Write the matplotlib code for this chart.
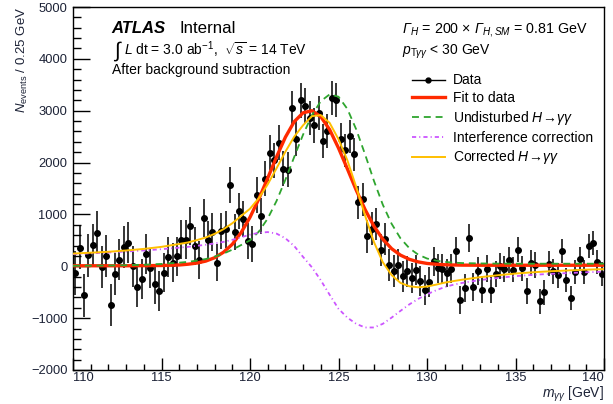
import numpy as np
import matplotlib
matplotlib.use("Agg")
import matplotlib.pyplot as plt
from matplotlib.lines import Line2D
from matplotlib.ticker import MultipleLocator

plt.rcParams['font.family'] = ['Liberation Sans', 'DejaVu Sans']
plt.rcParams['mathtext.fontset'] = 'custom'
plt.rcParams['mathtext.rm'] = 'Liberation Sans'
plt.rcParams['mathtext.it'] = 'Liberation Sans:italic'
plt.rcParams['mathtext.bf'] = 'Liberation Sans:bold'
plt.rcParams['mathtext.cal'] = 'Liberation Sans:italic'
plt.rcParams['lines.scale_dashes'] = False

# ---------------- data (background-subtracted events per 0.25 GeV bin) ----------------
bin_low = 110.0
bin_width = 0.25
data_counts = [
    -129, 360, -560, 212, 405, 649, -13, 193, -739, -154,
    128, 372, 456, 0, -398, -250, 244, -32, -334, -475,
    -125, 180, 71, 193, 514, 514, 777, 385, 116, 931,
    514, 661, 71, 680, 713, 1574, 661, 1066, 919, 488,
    430, 1381, 970, 1690, 2191, 2043, 2384, 1883, 1863, 3050,
    2461, 3199, 3100, 2860, 2717, 2950, 2420, 2600, 3250, 3212,
    2447, 2235, 2505, 2158, 1239, 1291, 578, 726, 822, 322,
    520, 20, -90, 30, -190, -100, -230, -77, -285, -465,
    -300, 96, -40, -44, -129, -44, 300, -650, -411, 540,
    -398, -90, -450, -50, -455, -150, 10, -50, 128, -62,
    322, -40, -475, 64, 25, -674, -500, 51, -93, -173,
    295, -263, -610, -109, 138, -109, 385, 449, 90, -148,
]
data_errors = [
    420, 418, 416, 414, 412, 410, 408, 406, 404, 402,
    400, 398, 396, 394, 392, 390, 388, 386, 384, 382,
    380, 378, 376, 374, 372, 370, 368, 366, 364, 362,
    360, 358, 356, 354, 352, 350, 349, 348, 347, 346,
    345, 344, 343, 342, 341, 340, 339, 338, 337, 336,
    335, 334, 333, 332, 331, 330, 329, 328, 327, 326,
    325, 324, 322, 320, 318, 316, 314, 312, 310, 308,
    306, 304, 302, 300, 298, 296, 294, 292, 290, 288,
    286, 284, 282, 280, 278, 276, 274, 272, 270, 268,
    266, 264, 262, 260, 258, 256, 254, 252, 250, 249,
    248, 247, 246, 245, 244, 243, 242, 241, 240, 239,
    238, 237, 236, 235, 234, 233, 232, 231, 230, 229,
]

# ---------------- curves ----------------
curve_mass = [110, 111, 112, 113, 114, 115, 116, 116.5, 117, 117.5, 118, 118.5,
              119, 119.5, 120, 120.5, 121, 121.5, 122, 122.5, 123, 123.5, 124, 124.5,
              125, 125.5, 126, 126.5, 127, 127.5, 128, 128.5, 129, 129.5, 130, 130.5,
              131, 131.5, 132, 133, 134, 135, 136, 137, 138, 139, 140]
fit_curve = [10, 10, 10, 10, 12, 15, 25, 40, 62, 100, 165, 270,
             425, 650, 945, 1300, 1700, 2110, 2490, 2790, 2960, 3000, 2885, 2635,
             2280, 1880, 1470, 1095, 775, 525, 340, 215, 135, 85, 55, 40,
             30, 25, 22, 20, 20, 20, 20, 20, 20, 20, 20]
undisturbed_curve = [10, 12, 15, 20, 30, 45, 70, 85, 110, 140, 185, 245,
                     320, 410, 500, 670, 920, 1260, 1670, 2110, 2540, 2915, 3185, 3315,
                     3270, 3035, 2640, 2160, 1650, 1190, 820, 540, 350, 225, 150, 110,
                     85, 70, 62, 55, 52, 50, 50, 50, 50, 50, 50]
interference_curve = [235, 250, 265, 285, 305, 330, 360, 375, 395, 415, 440, 470,
                      510, 560, 610, 645, 660, 630, 540, 390, 180, -20, -270, -550,
                      -820, -990, -1110, -1180, -1180, -1110, -990, -860, -735, -630, -540, -465,
                      -400, -355, -320, -265, -225, -190, -165, -145, -130, -115, -105]
corrected_curve = [u + i for u, i in zip(undisturbed_curve, interference_curve)]

# ---------------- figure ----------------
W, H = 613, 404
fig = plt.figure(figsize=(W / 100, H / 100), dpi=100)
ax_l, ax_r, ax_t, ax_b = 73, 604, 7, 370
ax = fig.add_axes([ax_l / W, 1 - ax_b / H, (ax_r - ax_l) / W, (ax_b - ax_t) / H])

centers = bin_low + bin_width * (np.arange(len(data_counts)) + 0.5)
ax.errorbar(centers, data_counts, yerr=data_errors, fmt='o', color='black',
            ms=4.0, elinewidth=1.1, capsize=0, zorder=3)

ax.plot(curve_mass, fit_curve, color='#ff2a00', lw=2.4, zorder=4)
l_green, = ax.plot(curve_mass, undisturbed_curve, color='#2ea52e', lw=1.3, zorder=5)
l_green.set_dashes((5, 3.5))
l_purple, = ax.plot(curve_mass, interference_curve, color='#cc55ff', lw=1.3, zorder=5)
l_purple.set_dashes((3, 2.2, 0.8, 2.2))
ax.plot(curve_mass, corrected_curve, color='#ffbf00', lw=1.4, zorder=6)

ax.set_xlim(110, 140)
ax.set_ylim(-2000, 5000)
ax.xaxis.set_major_locator(MultipleLocator(5))
ax.xaxis.set_minor_locator(MultipleLocator(1))
ax.yaxis.set_major_locator(MultipleLocator(1000))
ax.yaxis.set_minor_locator(MultipleLocator(200))
ax.tick_params(axis='y', which='major', direction='in', length=12, width=1, pad=4, labelsize=9.3)
ax.tick_params(axis='y', which='minor', direction='in', length=6, width=1)
ax.tick_params(axis='x', which='major', direction='in', length=8.5, width=1, pad=1.5, labelsize=9.3)
ax.tick_params(axis='x', which='minor', direction='in', length=4.5, width=1)
ax.set_xticks([110, 115, 120, 125, 130, 135, 140])
ax.set_xticklabels(['110', '115', '120', '125', '130', '135', '140'])
for lab in ax.get_xticklabels() + ax.get_yticklabels():
    lab.set_color('#1c2236')
ax.get_xticklabels()[-1].set_horizontalalignment('right')
ax.get_xticklabels()[0].set_horizontalalignment('left')
for s in ax.spines.values():
    s.set_linewidth(1.0)


def fx(px):
    return px / W


def fy(py):
    return 1 - py / H


fig.text(fx(ax_r), fy(398), r'$m_{\gamma\gamma}$ [GeV]', ha='right', va='baseline',
         fontsize=10, color='#1c2236')
fig.text(fx(22), fy(7), r'$N_{\mathrm{events}}$ / 0.25 GeV', rotation=90,
         ha='center', va='top', fontsize=9.5, color='#1c2236')

fig.text(fx(111.5), fy(33.3), 'ATLAS', fontsize=12, fontweight='bold', style='italic',
         va='baseline')
fig.text(fx(179), fy(33.3), 'Internal', fontsize=12.2, va='baseline')
fig.text(fx(114), fy(57), '∫', fontsize=15, va='baseline')
fig.text(fx(124), fy(55), r'$L$ dt = 3.0 ab$^{-1}$,  $\sqrt{s}$ = 14 TeV',
         fontsize=10, va='baseline')
fig.text(fx(111.5), fy(74), 'After background subtraction', fontsize=10, va='baseline')

fig.text(fx(401.5), fy(33.3),
         r'$\mathcal{Γ}_{H}$ = 200 × $\mathcal{Γ}_{H,SM}$ = 0.81 GeV',
         fontsize=10.3, va='baseline')
fig.text(fx(401.5), fy(55), r'$p_{\mathrm{T}\gamma\gamma}$ < 30 GeV', fontsize=10, va='baseline')

h_data = Line2D([], [], color='black', marker='o', ms=3.5, lw=1)
h_fit = Line2D([], [], color='#ff2a00', lw=2.4)
h_und = Line2D([], [], color='#2ea52e', lw=1.3, dashes=(5, 3.5))
h_int = Line2D([], [], color='#cc55ff', lw=1.3, dashes=(3, 2.2, 0.8, 2.2))
h_cor = Line2D([], [], color='#ffbf00', lw=1.4)
legend_labels = ['Data', 'Fit to data', r'Undisturbed $H\!\rightarrow\!\gamma\gamma$',
                 'Interference correction', r'Corrected $H\!\rightarrow\!\gamma\gamma$']
fig.legend([h_data, h_fit, h_und, h_int, h_cor], legend_labels,
           loc='upper left', bbox_to_anchor=(fx(411.5), fy(73.5)), frameon=False,
           fontsize=10, handlelength=2.4, handletextpad=0.6, labelspacing=0.27,
           borderpad=0, borderaxespad=0)

fig.savefig('out.png', dpi=100)
